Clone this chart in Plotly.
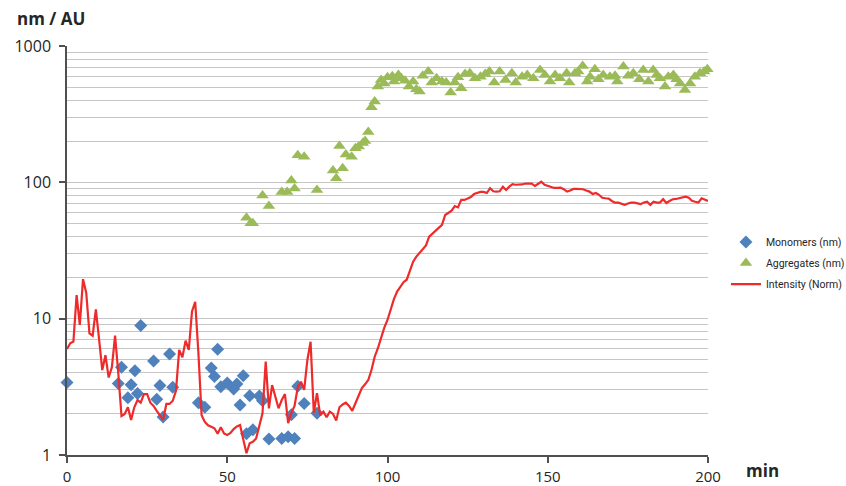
import plotly.graph_objects as go

# Monomer size (nm)
mono_t = [0, 16, 17, 19, 20, 21.2, 22, 23, 27, 28, 29, 30, 32, 33,
          41, 43, 45, 46, 47, 48, 50, 52, 53, 54, 55, 56, 57, 58,
          60, 61, 63, 67, 69, 70, 71, 72, 74, 78]
mono_v = [3.4, 3.35, 4.4, 2.63, 3.28, 4.15, 2.82, 8.9, 4.9, 2.56, 3.24, 1.9, 5.5, 3.14,
          2.42, 2.24, 4.35, 3.77, 5.96, 3.17, 3.37, 3.05, 3.32, 2.33, 3.82, 1.43, 2.72, 1.53,
          2.71, 2.5, 1.31, 1.32, 1.36, 1.97, 1.32, 3.19, 2.39, 2.02]

# Aggregate size (nm)
agg_t = [56, 57.3, 58, 61, 63, 67, 68.7, 70, 71, 72, 74, 78, 83, 84, 85, 86, 87, 88.8,
         90, 91, 92.3, 93, 94, 95, 96, 97, 98, 99, 100, 101.5, 102, 103.4, 104.3, 105.5,
         106.7, 108, 109, 110, 111, 112.7, 113.8, 115.3, 117, 118.3, 119.7, 121, 122, 123,
         124.2, 125.7, 127.3, 129, 130.5, 131.8, 133.3, 135, 136.8, 138.8, 140, 142, 143.6,
         145.5, 147.6, 149.1, 150.7, 152.3, 153.8, 155.9, 156.7, 158.5, 159.5, 160.9, 162.3,
         163.2, 164.7, 165.8, 167.3, 169.4, 171, 171.7, 173.6, 175.1, 176.7, 178.6, 179.8,
         181.4, 182.9, 184, 185, 186.6, 187.6, 189.2, 190.2, 191.3, 192.8, 194.4, 195.9,
         197.5, 198.8, 199.8]
agg_v = [55, 50, 50, 80, 67, 85, 85, 103, 90, 158, 154, 88, 122, 107, 185, 127, 160, 154,
         178, 183, 194, 201, 234, 356, 391, 504, 564, 530, 590, 600, 548, 614, 580, 555,
         504, 548, 482, 463, 604, 649, 539, 580, 548, 539, 455, 539, 590, 490,
         623, 630, 580, 595, 623, 649, 539, 649, 564, 630, 539, 595, 614,
         580, 668, 614, 548, 614, 580, 630, 539, 630, 649, 714, 548,
         595, 676, 570, 614, 595, 605, 548, 706, 605, 630, 570, 668,
         548, 668, 614, 580, 504, 595, 614, 570, 531, 476, 531, 595,
         630, 649, 676]

# Normalised scattering intensity, one reading per minute
int_t = list(range(0, 201))
int_v = [6.0, 6.6, 6.8, 14.9, 9.0, 19.5, 15.5, 7.8, 7.5, 11.7,
         7.1, 4.2, 5.4, 3.7, 4.4, 7.5, 4.0, 1.93, 2.0, 2.24,
         1.81, 2.24, 2.53, 2.42, 2.8, 2.8, 2.42, 2.29, 2.11, 1.95,
         1.81, 2.37, 2.37, 2.5, 2.96, 5.9, 5.2, 6.9, 5.9, 11.3,
         13.3, 5.6, 1.96, 1.75, 1.65, 1.61, 1.57, 1.43, 1.6, 1.44,
         1.40, 1.45, 1.55, 1.62, 1.66, 1.3, 1.03, 1.22, 1.25, 1.32,
         1.61, 2.02, 4.84, 2.2, 3.26, 2.68, 2.2, 2.53, 2.8, 1.71,
         2.04, 2.29, 3.14, 3.45, 3.0, 4.98, 6.78, 2.04, 2.84, 1.96,
         2.08, 1.89, 2.08, 2.0, 1.79, 2.24, 2.35, 2.42, 2.29, 2.11,
         2.4, 2.7, 3.1, 3.3, 3.55, 4.2, 5.26, 6.07, 7.38, 8.6,
         9.78, 11.6, 13.9, 15.8, 17, 18.5, 19.3, 22.8, 26.2, 28.5,
         30.5, 32, 34.5, 40, 42, 44.7, 47, 48.8, 57.6, 60,
         62, 67, 65.5, 74.3, 74.3, 76, 78, 82, 84, 85,
         85, 83.5, 90.5, 86, 85.5, 86, 93, 88, 93, 97,
         96, 96, 96.5, 98, 98, 98, 94, 98, 101, 96,
         94, 93, 91, 91, 91.5, 89, 85.5, 87, 89.4, 89.4,
         89.4, 89, 87, 85.5, 82.2, 83.5, 81, 77, 76.4, 76,
         73, 71, 71, 70, 68.3, 70, 71, 71, 70.5, 69.2,
         71, 72, 68.3, 72, 71, 71, 75.2, 70.5, 73, 75.2,
         75.5, 76.4, 77.5, 78.5, 77, 73.2, 72, 71, 76.4, 74.5,
         73]

x_ticks = [0, 50, 100, 150, 200]
y_ticks = [1, 10, 100, 1000]

FONT = "Open Sans, Liberation Sans, sans-serif"
LEGEND_FONT = "Roboto, Open Sans, sans-serif"
GRID = "#c6c6c6"
AXIS = "#505050"

fig = go.Figure()
fig.add_trace(go.Scatter(
    x=mono_t, y=mono_v, mode="markers", name="Monomers (nm)", legendgroup="m",
    marker=dict(symbol="diamond", size=10, color="#4F81BD"),
    cliponaxis=False,
))
fig.add_trace(go.Scatter(
    x=agg_t, y=agg_v, mode="markers", name="Aggregates (nm)", legendgroup="a",
    marker=dict(symbol="triangle-up", size=11, color="#9BBB59"),
    cliponaxis=False,
))
fig.add_trace(go.Scatter(
    x=int_t, y=int_v, mode="lines", name="Intensity (Norm)", legendgroup="i",
    line=dict(color="#EE2A2A", width=2.2),
))

fig.update_layout(
    width=846, height=486,
    margin=dict(l=67, r=138, t=46, b=31, autoexpand=False),
    paper_bgcolor="white", plot_bgcolor="white",
    font=dict(family=FONT, color="#262626"),
    showlegend=True,
    legend=dict(
        x=1.028, y=0.556, xanchor="left", yanchor="top",
        font=dict(size=10.5, family=LEGEND_FONT, color="#262626"),
        bgcolor="rgba(0,0,0,0)", itemwidth=30,
        traceorder="grouped", tracegroupgap=2,
    ),
    xaxis=dict(
        range=[0, 200], tickvals=x_ticks, ticktext=[str(v) for v in x_ticks],
        showgrid=False, zeroline=False, automargin=False,
        showline=True, linecolor=AXIS, linewidth=1.5,
        ticks="outside", ticklen=6, tickcolor=AXIS, tickwidth=1.5,
        ticklabelstandoff=1,
        tickfont=dict(size=15, family=FONT, color="#262626"),
    ),
    yaxis=dict(
        type="log", range=[0, 3], tickvals=y_ticks, ticktext=[str(v) for v in y_ticks],
        showgrid=True, gridcolor=GRID, gridwidth=1.2, automargin=False,
        minor=dict(dtick="D1", showgrid=True, gridcolor=GRID, gridwidth=1.2, ticks=""),
        zeroline=False,
        showline=True, linecolor=AXIS, linewidth=1.5,
        ticks="outside", ticklen=6, tickcolor=AXIS, tickwidth=1.5,
        ticklabelstandoff=5,
        tickfont=dict(size=16, family=FONT, color="#262626"),
    ),
    annotations=[
        dict(text="<b>nm / AU</b>", xref="paper", yref="paper",
             x=-0.081, y=1.068, xanchor="left", yanchor="middle", showarrow=False,
             font=dict(size=17, family=FONT, color="#262626")),
        dict(text="<b>min</b>", xref="paper", yref="paper",
             x=1.056, y=-0.037, xanchor="left", yanchor="middle", showarrow=False,
             font=dict(size=17, family=FONT, color="#262626")),
    ],
)

fig.write_html("out.html")
